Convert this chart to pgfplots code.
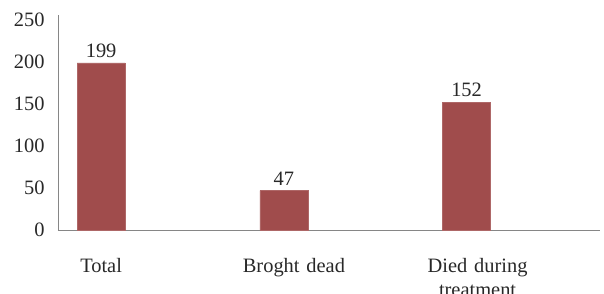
\documentclass[border=0pt]{standalone}
\usepackage{pgfplots}
\pgfplotsset{compat=1.18}
\usepackage{fontspec}
\setmainfont{Liberation Serif}
\definecolor{barred}{RGB}{160,76,76}
\definecolor{axgray}{RGB}{134,134,134}
\definecolor{txt}{RGB}{40,40,40}
\begin{document}
\begin{tikzpicture}
\useasboundingbox (-58bp,-64bp) rectangle (546bp,230bp);
\clip (-58bp,-64bp) rectangle (546bp,230bp);
\begin{axis}[
  at={(0,0)}, anchor=south west,
  scale only axis, width=542bp, height=215bp,
  xmin=-0.236, xmax=2.73, ymin=0, ymax=256,
  axis x line*=bottom, axis y line*=left,
  axis line style={axgray, line width=0.9pt},
  axis line style={-},
  ytick={0,50,...,250},
  xtick={0,1.055,2.06},
  xticklabels={Total, Broght dead, Died during\\treatment},
  major tick length=0pt,
  every tick label/.append style={font=\fontsize{20.5}{24}\selectfont, text=txt},
  /pgf/number format/assume math mode=true,
  yticklabel style={xshift=-10bp},
  xticklabel style={align=center, yshift=-25bp, text width=140bp},
  clip=false,
]
\addplot[ybar, bar width=48bp, fill=barred, draw=barred!85!white,
  nodes near coords, every node near coord/.append style={font=\fontsize{20.5}{22}\selectfont, text=txt, yshift=2bp}]
  coordinates {(0,199) (1,47) (2,152)};
\end{axis}
\end{tikzpicture}
\end{document}
